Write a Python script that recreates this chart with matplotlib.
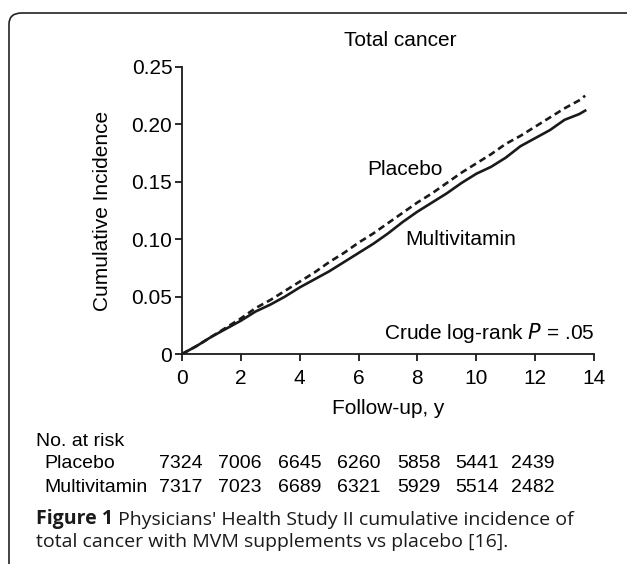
import matplotlib
matplotlib.use("Agg")
import matplotlib.pyplot as plt
from matplotlib.patches import FancyBboxPatch

# follow-up time (years) and cumulative incidence
years = [0, 0.5, 1.0, 1.5, 2.0, 2.5, 3.0, 3.5, 4.0, 4.5, 5.0, 5.5, 6.0, 6.5, 7.0,
         7.5, 8.0, 8.5, 9.0, 9.5, 10.0, 10.5, 11.0, 11.5, 12.0, 12.5, 13.0, 13.5, 13.7]
placebo = [0, 0.007, 0.015, 0.023, 0.031, 0.040, 0.047, 0.055, 0.063, 0.071, 0.080,
           0.088, 0.097, 0.105, 0.114, 0.123, 0.132, 0.140, 0.149, 0.158, 0.166,
           0.174, 0.183, 0.190, 0.198, 0.206, 0.214, 0.221, 0.225]
multivitamin = [0, 0.007, 0.015, 0.022, 0.029, 0.037, 0.043, 0.050, 0.058, 0.065, 0.072,
                0.080, 0.088, 0.096, 0.105, 0.115, 0.124, 0.132, 0.140, 0.149, 0.157,
                0.163, 0.171, 0.181, 0.188, 0.195, 0.204, 0.209, 0.212]

risk_placebo = [7324, 7006, 6645, 6260, 5858, 5441, 2439]
risk_multi = [7317, 7023, 6689, 6321, 5929, 5514, 2482]

chart_font = "Liberation Sans"
cap_font = "Open Sans"
ink = "#1a1a1a"

W, H = 627, 564
fig = plt.figure(figsize=(W / 100, H / 100), dpi=100)

# rounded frame around the figure (runs off right and bottom edges)
frame = FancyBboxPatch((9 / W, -0.1), 1.2, (H - 13) / H + 0.1,
                       boxstyle="round,pad=0,rounding_size=0.02",
                       transform=fig.transFigure, fill=False,
                       edgecolor="#222222", linewidth=1.2)
fig.patches.append(frame)

ax = fig.add_axes([182 / W, 1 - 354 / H, (594 - 182) / W, (354 - 67) / H])
ax.plot(years, placebo, color=ink, lw=1.9, ls=(0, (2.6, 1.6)))
ax.plot(years, multivitamin, color=ink, lw=1.9)

ax.set_xlim(0, 14)
ax.set_ylim(0, 0.25)
ax.set_xticks(range(0, 15, 2))
ax.set_yticks([0, 0.05, 0.10, 0.15, 0.20, 0.25])
ax.set_yticklabels(["0", "0.05", "0.10", "0.15", "0.20", "0.25"])
for s in ["top", "right"]:
    ax.spines[s].set_visible(False)
for s in ["left", "bottom"]:
    ax.spines[s].set_linewidth(1.3)
    ax.spines[s].set_color(ink)
ax.tick_params(length=5, width=1.3, color=ink, labelsize=15)
ax.tick_params(axis="x", pad=6)
ax.tick_params(axis="y", pad=2)
for lab in ax.get_xticklabels() + ax.get_yticklabels():
    lab.set_fontfamily(chart_font)
ax.set_xlabel("Follow-up, y", fontsize=15, fontfamily=chart_font, labelpad=8)
ax.set_ylabel("Cumulative Incidence", fontsize=15, fontfamily=chart_font, labelpad=14)
ax.patch.set_alpha(0)

ax.text(7.58, 0.161, "Placebo", fontsize=15, fontfamily=chart_font, ha="center", va="center")
ax.text(9.48, 0.100, "Multivitamin", fontsize=15, fontfamily=chart_font, ha="center", va="center")
ax.text(14, 0.018, "Crude log-rank $\\it{P}$ = .05", fontsize=15, fontfamily=chart_font,
        ha="right", va="center")
fig.text(400 / W, 1 - 40 / H, "Total cancer", fontsize=15, fontfamily=chart_font,
         ha="center", va="center")

# number at risk table
fig.text(36 / W, 1 - 441 / H, "No. at risk", fontsize=14, fontfamily=chart_font, va="center")
fig.text(44 / W, 1 - 464 / H, "Placebo", fontsize=14, fontfamily=chart_font, va="center")
fig.text(44 / W, 1 - 487 / H, "Multivitamin", fontsize=14, fontfamily=chart_font, va="center")
col_x = [181, 240, 300, 359, 419, 477, 533]
for cx, a, b in zip(col_x, risk_placebo, risk_multi):
    fig.text(cx / W, 1 - 464 / H, str(a), fontsize=14, fontfamily=chart_font, ha="center", va="center")
    fig.text(cx / W, 1 - 487 / H, str(b), fontsize=14, fontfamily=chart_font, ha="center", va="center")

# caption
t1 = fig.text(36 / W, 1 - 519 / H, "Figure 1", fontsize=14, fontfamily=cap_font,
              fontweight="bold", va="center", color=ink)
plt.annotate(" Physicians' Health Study II cumulative incidence of", xy=(1, 0),
             xycoords=t1, va="bottom", fontsize=14, fontfamily=cap_font, color=ink)
fig.text(36 / W, 1 - 542 / H, "total cancer with MVM supplements vs placebo [16].",
         fontsize=14, fontfamily=cap_font, va="center", color=ink)

fig.savefig("out.png", dpi=100)
